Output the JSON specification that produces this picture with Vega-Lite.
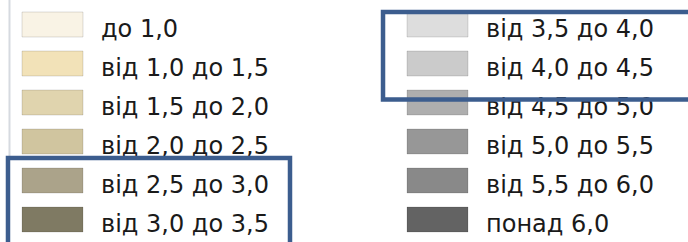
{
  "$schema": "https://vega.github.io/schema/vega-lite/v6.json",
  "width": 688,
  "height": 242,
  "autosize": {"type": "none"},
  "padding": 0,
  "background": "white",
  "config": {"view": {"stroke": null}},
  "datasets": {
    "items": [
      {"col": 0, "row": 0, "label": "до 1,0"},
      {"col": 0, "row": 1, "label": "від 1,0 до 1,5"},
      {"col": 0, "row": 2, "label": "від 1,5 до 2,0"},
      {"col": 0, "row": 3, "label": "від 2,0 до 2,5"},
      {"col": 0, "row": 4, "label": "від 2,5 до 3,0"},
      {"col": 0, "row": 5, "label": "від 3,0 до 3,5"},
      {"col": 1, "row": 0, "label": "від 3,5 до 4,0"},
      {"col": 1, "row": 1, "label": "від 4,0 до 4,5"},
      {"col": 1, "row": 2, "label": "від 4,5 до 5,0"},
      {"col": 1, "row": 3, "label": "від 5,0 до 5,5"},
      {"col": 1, "row": 4, "label": "від 5,5 до 6,0"},
      {"col": 1, "row": 5, "label": "понад 6,0"}
    ],
    "boxes": [
      {"x0": -0.0364, "x1": 0.6961, "y0": 3.7436, "y1": 6.5},
      {"x0": 0.9377, "x1": 1.9, "y0": 0.0, "y1": 2.2436}
    ],
    "mask": [
      {"x0": 1.2, "x1": 1.8, "y0": 1.85, "y1": 2.18}
    ],
    "guide": [
      {"x": -0.0325, "y0": -0.6, "y1": 3.7436}
    ]
  },
  "layer": [
    {
      "data": {"name": "items"},
      "mark": {"type": "rect", "x2Offset": 61, "y2Offset": 25, "stroke": "#000000", "strokeOpacity": 0.13, "strokeWidth": 1},
      "encoding": {
        "x": {"field": "col", "type": "quantitative", "axis": null, "scale": {"domain": [0, 1], "range": [22, 407], "nice": false, "zero": false}},
        "x2": {"field": "col"},
        "y": {"field": "row", "type": "quantitative", "axis": null, "scale": {"domain": [0, 5], "range": [12, 207], "nice": false, "zero": false}},
        "y2": {"field": "row"},
        "color": {
          "field": "label", "type": "nominal", "legend": null,
          "scale": {
            "domain": ["до 1,0", "від 1,0 до 1,5", "від 1,5 до 2,0", "від 2,0 до 2,5", "від 2,5 до 3,0", "від 3,0 до 3,5", "від 3,5 до 4,0", "від 4,0 до 4,5", "від 4,5 до 5,0", "від 5,0 до 5,5", "від 5,5 до 6,0", "понад 6,0"],
            "range": ["#f9f3e5", "#f2e2b8", "#e0d4ae", "#d0c59f", "#aba38a", "#7f7a63", "#dddddd", "#cbcbcb", "#aeaeae", "#979797", "#898989", "#636363"]
          }
        }
      }
    },
    {
      "data": {"name": "items"},
      "mark": {"type": "text", "align": "left", "baseline": "alphabetic", "xOffset": 79, "yOffset": 24.5, "font": "DejaVu Sans", "fontSize": 24, "color": "#1a1a1a"},
      "encoding": {
        "x": {"field": "col", "type": "quantitative", "axis": null, "scale": {"domain": [0, 1], "range": [22, 407], "nice": false, "zero": false}},
        "y": {"field": "row", "type": "quantitative", "axis": null, "scale": {"domain": [0, 5], "range": [12, 207], "nice": false, "zero": false}},
        "text": {"field": "label"}
      }
    },
    {
      "data": {"name": "mask"},
      "mark": {"type": "rect", "color": "white"},
      "encoding": {
        "x": {"field": "x0", "type": "quantitative", "axis": null, "scale": {"domain": [0, 1], "range": [22, 407], "nice": false, "zero": false}},
        "x2": {"field": "x1"},
        "y": {"field": "y0", "type": "quantitative", "axis": null, "scale": {"domain": [0, 5], "range": [12, 207], "nice": false, "zero": false}},
        "y2": {"field": "y1"}
      }
    },
    {
      "data": {"name": "guide"},
      "mark": {"type": "rule", "color": "#d6dae0", "strokeWidth": 2, "clip": true},
      "encoding": {
        "x": {"field": "x", "type": "quantitative", "axis": null, "scale": {"domain": [0, 1], "range": [22, 407], "nice": false, "zero": false}},
        "y": {"field": "y0", "type": "quantitative", "axis": null, "scale": {"domain": [0, 5], "range": [12, 207], "nice": false, "zero": false}},
        "y2": {"field": "y1"}
      }
    },
    {
      "data": {"name": "boxes"},
      "mark": {"type": "rect", "fillOpacity": 0, "stroke": "#3c5d8e", "strokeWidth": 4.5, "clip": true},
      "encoding": {
        "x": {"field": "x0", "type": "quantitative", "axis": null, "scale": {"domain": [0, 1], "range": [22, 407], "nice": false, "zero": false}},
        "x2": {"field": "x1"},
        "y": {"field": "y0", "type": "quantitative", "axis": null, "scale": {"domain": [0, 5], "range": [12, 207], "nice": false, "zero": false}},
        "y2": {"field": "y1"}
      }
    }
  ]
}
